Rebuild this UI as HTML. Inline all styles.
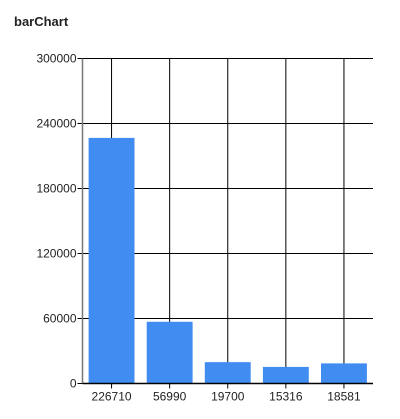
<!DOCTYPE html>
<html><head><meta charset="utf-8"><style>
body{margin:0;background:#fff;font-family:"Liberation Sans",Arial,sans-serif}
</style></head><body>
<svg width="400" height="419" style="display:block">
<text x="14" y="26" font-size="13" font-weight="bold" fill="#222">barChart</text>
<g id="g"></g>
</svg>
<script>
const categories=["226710","56990","19700","15316","18581"];
const values=[226710,56990,19700,15316,18581];
const yTicks=[0,60000,120000,180000,240000,300000];
const L=82.5,R=373,T=58.5,B=383.5,yMax=300000;
const ns="http://www.w3.org/2000/svg",g=document.getElementById('g');
const bw=(R-L)/categories.length;
const y=v=>B-(v/yMax)*(B-T);
const xc=i=>L+bw*(i+0.5);
function mk(t,a){const e=document.createElementNS(ns,t);for(const k in a)e.setAttribute(k,a[k]);g.appendChild(e);return e;}
yTicks.forEach(v=>{
 const l=mk('line',{x1:L-5,x2:R,y1:y(v),y2:y(v),stroke:'#000','stroke-width':1});
 
 
 const t=mk('text',{x:L-6,y:y(v)+4,'text-anchor':'end','font-size':12,fill:'#222'});
 t.textContent=v;
 
 
});
categories.forEach((c,i)=>{
 const l=mk('line',{x1:xc(i),x2:xc(i),y1:T,y2:B+5,stroke:'#000','stroke-width':1});
 
 
});
const ax=mk('line',{x1:L,x2:L,y1:T,y2:B,stroke:'#777','stroke-width':1.5});


categories.forEach((c,i)=>{
 const w=bw*0.79;
 const r=mk('rect',{x:xc(i)-w/2,y:y(values[i]),width:w,height:B-y(values[i]),fill:'#418cf0'});
 
 
 const t=mk('text',{x:xc(i),y:B+17,'text-anchor':'middle','font-size':12,fill:'#222'});
 t.textContent=c;
 
 
});
const bx=mk('line',{x1:L,x2:R,y1:B,y2:B,stroke:'#000','stroke-width':1.5});


</script>
</body></html>
